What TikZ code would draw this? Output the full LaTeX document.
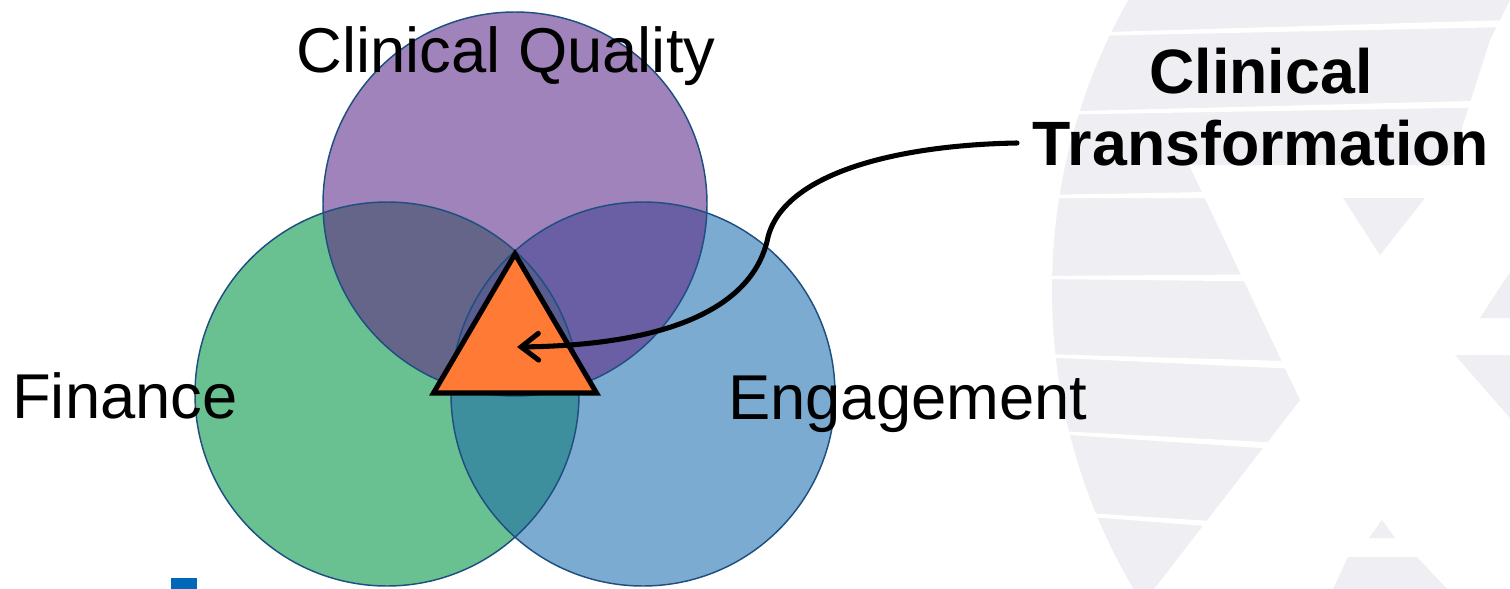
\documentclass[tikz,border=0pt]{standalone}
\usepackage{fontspec}
\setmainfont{Liberation Sans}
\usetikzlibrary{arrows.meta}
\definecolor{wm}{HTML}{EFEFF3}
\definecolor{cP}{HTML}{A083BA}
\definecolor{cG}{HTML}{69C192}
\definecolor{cB}{HTML}{7BABD0}
\definecolor{cPG}{HTML}{646588}
\definecolor{cPB}{HTML}{6A5EA4}
\definecolor{cGB}{HTML}{3E8F9D}
\definecolor{cPGB}{HTML}{585C8F}
\definecolor{edgeblue}{HTML}{1F4F80}
\definecolor{orangefill}{HTML}{FF7B35}
\definecolor{markblue}{HTML}{0068B8}
\tikzset{
  lbl/.style={inner sep=0pt, font=\fontsize{47.5}{54}\selectfont},
  blbl/.style={inner sep=0pt, font=\fontsize{47}{54}\selectfont\bfseries},
  ring/.style={draw=edgeblue, line width=1.1pt},
  tri/.style={draw=black, fill=orangefill, line width=3.8pt, line join=miter},
  pointer/.style={draw=black, line width=3.8pt, line cap=round,
    -{Straight Barb[length=13pt,width=20pt,line cap=round]}},
}
\begin{document}
\begin{tikzpicture}[x=0.75pt,y=-0.75pt]
\useasboundingbox (0,0) rectangle (1510,589);
\fill[white] (0,0) rectangle (1510,589);
% watermark
\begin{scope}
  \clip (1640,290) circle (588);
  \fill[wm] (1000,0) -- (1510,0) -- (1490,40) -- (1450,165) -- (1189,165) -- (1300,400) -- (1154,589) -- (1000,589) -- cycle;
\end{scope}
\fill[wm] (1343,198) -- (1425,198) -- (1380,255) -- cycle;
\fill[wm] (1510,272) -- (1510,318) -- (1480,318) -- cycle;
\fill[wm] (1455,355) -- (1510,355) -- (1510,418) -- cycle;
\fill[wm] (1382,520) -- (1395,538) -- (1369,538) -- cycle;
\fill[wm] (1333,589) -- (1348,557) -- (1417,557) -- (1447,589) -- cycle;
\fill[white] (1040,34) -- (1510,20) -- (1510,27) -- (1040,37) -- cycle;
\fill[white] (1040,112) -- (1510,100) -- (1510,107) -- (1040,115) -- cycle;
\fill[white] (1040,195) -- (1320,190) -- (1320,198) -- (1040,198) -- cycle;
\fill[white] (1040,276) -- (1320,274) -- (1320,282) -- (1040,279) -- cycle;
\fill[white] (1040,354) -- (1320,362) -- (1320,370) -- (1040,357) -- cycle;
\fill[white] (1040,430) -- (1320,445) -- (1320,452) -- (1040,433) -- cycle;
\fill[white] (1040,510) -- (1320,528) -- (1320,535) -- (1040,513) -- cycle;
% circles
\fill[cP] (515,204) circle (192);
\fill[cG] (387,394) circle (192);
\fill[cB] (643,394) circle (192);
\begin{scope}\clip (515,204) circle (192); \fill[cPG] (387,394) circle (192);\end{scope}
\begin{scope}\clip (515,204) circle (192); \fill[cPB] (643,394) circle (192);\end{scope}
\begin{scope}\clip (387,394) circle (192); \fill[cGB] (643,394) circle (192);\end{scope}
\begin{scope}\clip (515,204) circle (192); \clip (387,394) circle (192); \fill[cPGB] (643,394) circle (192);\end{scope}
\draw[ring] (515,204) circle (192);
\draw[ring] (387,394) circle (192);
\draw[ring] (643,394) circle (192);
% triangle
\draw[tri] (515,254) -- (596.5,393) -- (433.5,393) -- cycle;
\coordinate (tip) at (517,347);
% labels
\node[lbl, anchor=base] (cq) at (506,72) {Clinical Quality};
\node[lbl, anchor=base west] (fin) at (12,418) {Finance};
\node[lbl, anchor=base west] (eng) at (728,419) {Engagement};
\node[blbl, anchor=base] (ct1) at (1261,93) {Clinical};
\node[blbl, anchor=base] (ct2) at (1261,165) {Transformation};
\coordinate (start) at (1017,143);
\draw[pointer] (start) .. controls (900,145) and (785,172) .. (768,237)
  .. controls (755,302) and (680,345) .. (tip);
% small blue mark
\fill[markblue] (171,578) rectangle (197,589);
\end{tikzpicture}
\end{document}
